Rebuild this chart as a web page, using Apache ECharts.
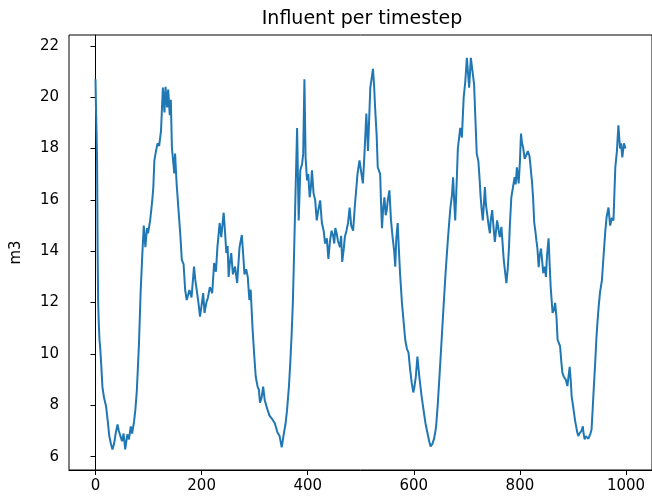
<!DOCTYPE html>
<html>
<head>
<meta charset="utf-8">
<script src="https://cdn.jsdelivr.net/npm/echarts@6/dist/echarts.min.js"></script>
<style>
  html, body { margin: 0; padding: 0; background: #fff; }
  #chart { width: 652px; height: 498px; }
</style>
</head>
<body>
<div id="chart"></div>
<script>
// timestep (x) and influent volume in m3 (y)
var steps = [0, 1, 2, 3, 4, 5, 6, 7.5, 9, 11, 13, 16, 20, 23, 26, 29, 32, 35, 38, 41.5, 44, 47, 50, 53, 56, 60, 63, 66.5, 69, 72.7, 75, 77.7, 80, 82, 85, 88, 91, 94, 97, 99, 103, 107, 109, 111, 114, 117, 120, 123.5, 127, 130, 132, 135, 137, 140, 142, 144, 148.5, 150, 153, 156.5, 160, 162.7, 166, 169, 172, 177, 181, 185.7, 188, 190.7, 194, 197, 200, 203, 205.5, 209, 212, 215.5, 220, 223.6, 227, 229.8, 234, 237, 241.6, 244, 246.6, 249, 251, 253, 255.8, 259, 263, 267, 271.5, 275.8, 278, 280.8, 284, 287, 290, 292.5, 296, 299, 302, 305.5, 308, 310, 313, 316, 319, 324, 328, 333.5, 338, 343, 347, 351, 355, 358, 361, 364.6, 367, 369.5, 372, 374, 377, 380, 383, 386, 389.4, 391.5, 393.8, 396, 398.7, 401, 403.7, 406, 408, 411, 414, 417, 420, 423.5, 426.7, 430, 432.8, 436, 439, 442, 445, 448, 450, 452, 454.6, 457, 460.8, 463, 465, 468, 470, 473, 476, 479, 482, 485.6, 489, 493.8, 497.6, 500, 504, 507, 510.5, 513.6, 518, 521, 523, 525, 527, 530, 532, 536.6, 538, 540, 542, 544.6, 547, 549, 551, 554, 557, 560, 563, 565, 567, 569.6, 572, 574, 577.6, 581, 583.8, 587, 590, 593, 596, 599, 601, 603.7, 606.8, 609, 611, 615, 619, 622, 625.5, 629, 631.6, 635, 637.8, 640, 642, 645, 648, 652, 656, 660, 664, 667, 669, 672, 674, 676, 678, 681, 683, 687.5, 690.6, 694, 697, 700, 702, 704.3, 707.5, 711, 713.6, 716, 718.6, 721.7, 724, 726, 728, 730, 732, 734, 736, 739, 741, 743.4, 745, 747.7, 750, 752.7, 755, 757, 760, 762, 765, 767, 769.5, 772, 774.5, 777, 779.4, 781, 783.8, 787, 790, 792, 794.3, 797.6, 800, 802, 804, 806, 809, 811.8, 815, 818, 820, 823, 825, 827, 829, 831, 833, 835.4, 837, 839.7, 842, 844, 847, 849, 851, 854, 856, 858, 861.5, 864, 866.4, 869, 871, 873, 875.7, 878, 880, 883, 886.4, 889.5, 891.5, 893.8, 896, 897.5, 900, 901.8, 904, 906, 908, 910, 912, 914, 916, 918.6, 920, 922, 924, 926.6, 929, 931, 933, 935, 937, 939, 942, 944, 946, 948.4, 951, 954.6, 958, 961, 963.4, 965, 967, 970, 973.5, 976.3, 978, 979.8, 982.8, 985.6, 988.7, 990.6, 993, 996, 999];
var influent = [20.7, 19.5, 18.6, 17.5, 14.0, 12.0, 11.3, 10.55, 10.2, 9.5, 8.73, 8.3, 7.95, 7.4, 6.8, 6.5, 6.28, 6.5, 6.9, 7.25, 7.0, 6.8, 6.6, 6.9, 6.28, 6.87, 6.67, 7.18, 6.9, 7.37, 7.8, 8.5, 9.5, 10.44, 12.37, 13.77, 15.0, 14.16, 14.9, 14.7, 15.2, 15.98, 16.5, 17.54, 17.9, 18.2, 18.1, 18.7, 20.37, 19.4, 20.4, 19.6, 20.3, 19.3, 19.9, 18.04, 17.03, 17.8, 16.6, 15.6, 14.6, 13.66, 13.5, 12.49, 12.1, 12.49, 12.2, 13.4, 12.9, 12.5, 12.0, 11.45, 11.9, 12.37, 11.6, 12.0, 12.2, 12.6, 12.37, 13.54, 13.2, 14.16, 15.1, 14.55, 15.5, 14.8, 13.93, 14.2, 13.0, 13.5, 13.93, 13.1, 13.4, 12.76, 14.16, 14.63, 14.0, 13.1, 13.3, 13.0, 12.1, 12.5, 11.0, 10.0, 9.12, 8.73, 8.6, 8.1, 8.3, 8.73, 8.2, 7.84, 7.6, 7.45, 7.3, 6.94, 6.8, 6.36, 6.9, 7.25, 7.8, 8.73, 9.6, 10.67, 12.0, 13.66, 16.26, 18.8, 15.2, 17.15, 17.4, 17.8, 20.7, 17.65, 16.76, 17.0, 16.1, 16.5, 17.15, 16.26, 16.0, 15.2, 15.6, 15.98, 15.1, 14.8, 14.3, 14.5, 13.7, 14.4, 14.8, 14.6, 14.3, 14.9, 14.7, 14.4, 14.16, 14.6, 13.58, 14.1, 14.55, 14.8, 15.1, 15.7, 15.0, 14.8, 15.8, 17.0, 17.54, 17.2, 16.64, 17.8, 19.36, 17.9, 20.37, 20.8, 21.1, 20.5, 19.6, 18.5, 17.27, 17.0, 16.0, 14.9, 15.6, 16.1, 15.4, 15.6, 16.0, 16.37, 15.2, 14.55, 14.0, 13.4, 14.5, 15.1, 14.0, 13.15, 11.99, 11.2, 10.55, 10.2, 10.05, 9.4, 8.88, 8.5, 8.7, 9.1, 9.9, 9.4, 9.0, 8.3, 7.72, 7.3, 6.94, 6.6, 6.4, 6.5, 6.67, 6.9, 7.18, 8.0, 9.0, 10.4, 11.83, 13.2, 14.4, 15.2, 15.7, 16.2, 16.88, 16.0, 15.2, 16.8, 18.0, 18.8, 18.43, 20.0, 20.6, 21.53, 21.0, 20.37, 21.53, 21.6, 20.5, 19.2, 17.8, 17.5, 16.8, 16.1, 15.6, 15.2, 15.8, 16.5, 15.8, 15.33, 15.0, 14.7, 15.2, 15.6, 15.0, 14.36, 14.8, 15.2, 14.8, 14.55, 14.95, 14.4, 13.66, 13.2, 12.76, 13.3, 14.16, 15.0, 16.1, 16.5, 16.88, 16.6, 17.27, 16.64, 17.5, 18.58, 18.2, 18.04, 17.6, 17.6, 17.9, 17.7, 17.3, 16.64, 16.0, 15.1, 14.8, 14.43, 14.1, 13.38, 13.8, 14.1, 13.6, 13.15, 13.4, 13.0, 13.8, 14.5, 13.5, 12.6, 11.6, 11.7, 11.99, 11.4, 10.55, 10.6, 10.3, 9.7, 9.27, 9.1, 9.0, 8.75, 9.1, 9.5, 8.9, 8.34, 8.0, 7.72, 7.4, 7.18, 6.95, 6.8, 6.9, 6.9, 7.0, 7.18, 6.9, 6.67, 6.8, 6.8, 6.7, 6.67, 6.9, 7.06, 7.8, 8.6, 9.7, 10.55, 11.2, 11.84, 12.4, 12.88, 13.93, 14.8, 15.33, 15.5, 15.7, 15.0, 15.3, 15.2, 16.2, 17.27, 17.9, 18.9, 18.0, 18.2, 17.65, 18.2, 18.0];

var xTicks = [0, 200, 400, 600, 800, 1000];
var yTicks = [6, 8, 10, 12, 14, 16, 18, 20, 22];

var chart = echarts.init(document.getElementById('chart'));

var points = [];
for (var i = 0; i < steps.length; i++) {
	points.push([steps[i], influent[i]]);
}

var font = 'DejaVu Sans';

var option = {
	animation: false,
	title: {
		text: 'Influent per timestep',
		left: 362,
		top: 10,
		padding: 0,
		textAlign: 'center',
		textStyle: { fontFamily: font, fontSize: 19, fontWeight: 'normal', color: '#000' }
	},
	grid: {
		left: 69,
		top: 35,
		right: -5,
		bottom: 28,
		show: true,
		borderColor: '#000',
		borderWidth: 1,
		backgroundColor: 'transparent'
	},
	xAxis: {
		type: 'value',
		min: -49.95,
		max: 1048.95,
		splitLine: { show: false },
		axisLine: { lineStyle: { color: '#000', width: 1 } },
		axisTick: { show: true, length: 5, lineStyle: { color: '#000' }, customValues: xTicks },
		axisLabel: {
			customValues: xTicks,
			margin: 9,
			fontFamily: font,
			fontSize: 15,
			color: '#000',
			formatter: function (v) { return String(v); }
		}
	},
	yAxis: {
		type: 'value',
		min: 5.48,
		max: 22.42,
		name: 'm3',
		nameLocation: 'middle',
		nameRotate: 90,
		nameGap: 45,
		nameTextStyle: { fontFamily: font, fontSize: 15, color: '#000' },
		splitLine: { show: false },
		axisLine: { show: true, lineStyle: { color: '#000', width: 1 } },
		axisTick: { show: true, length: 5, lineStyle: { color: '#000' }, customValues: yTicks },
		axisLabel: { customValues: yTicks, margin: 10, fontFamily: font, fontSize: 15, color: '#000' }
	},
	series: [{
		type: 'line',
		data: points,
		symbol: 'none',
		lineStyle: { color: '#1f77b4', width: 2 },
		z: 3
	}]
};

chart.setOption(option);
</script>
</body>
</html>
